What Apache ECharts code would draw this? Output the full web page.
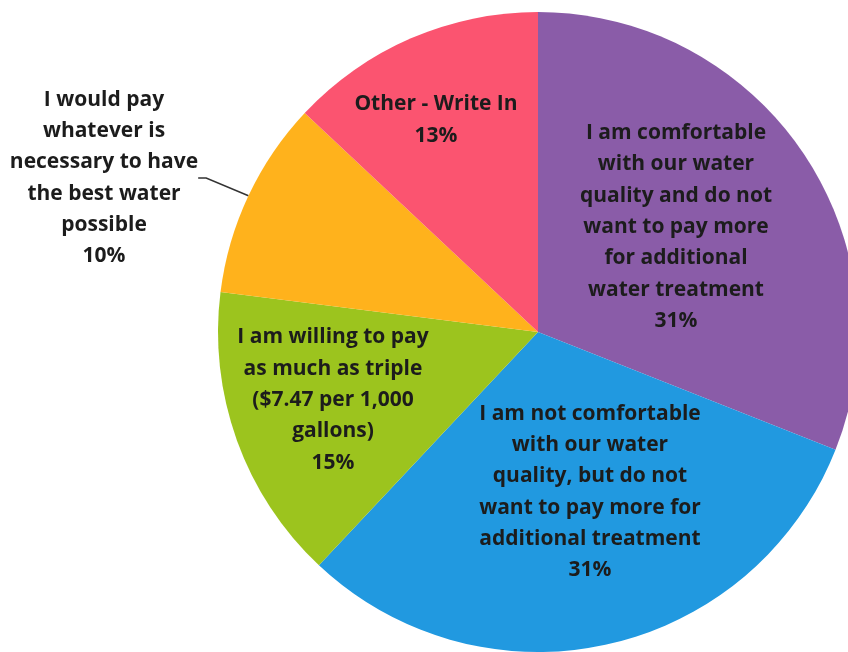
<!DOCTYPE html>
<html>
<head>
<meta charset="utf-8">
<script src="https://cdn.jsdelivr.net/npm/echarts@6/dist/echarts.min.js"></script>
<style>
  html, body { margin: 0; padding: 0; background: #ffffff; }
  #chart { width: 848px; height: 652px; }
</style>
</head>
<body>
<div id="chart"></div>
<script>
// Survey responses: willingness to pay for additional water treatment
const categories = [
  'I am comfortable\nwith our water\nquality and do not\nwant to pay more\nfor additional\nwater treatment',
  'I am not comfortable\nwith our water\nquality, but do not\nwant to pay more for\nadditional treatment',
  'I am willing to pay\nas much as triple\n($7.47 per 1,000\ngallons)',
  'I would pay\nwhatever is\nnecessary to have\nthe best water\npossible',
  'Other - Write In'
];
const percents = [31, 31, 15, 10, 13];
const sliceColors = ['#8a5ca8', '#2199e0', '#9cc41e', '#ffb21c', '#fb5470'];

// label anchor points (centre of each text block, in pixels)
const labelAnchors = [
  [676, 227],
  [590, 492],
  [333, 400],
  [104, 178],
  [436, 120]
];

const chart = echarts.init(document.getElementById('chart'));

const data = categories.map((name, i) => ({
  name: name,
  value: percents[i],
  itemStyle: { color: sliceColors[i] },
  label: i === 3
    ? { position: 'outside' }
    : { position: 'inside' },
  labelLine: { show: i === 3 }
}));

chart.setOption({
  animation: false,
  backgroundColor: '#ffffff',
  series: [{
    type: 'pie',
    center: [538, 332],
    radius: [0, 320],
    startAngle: 90,
    clockwise: true,
    silent: true,
    itemStyle: { borderWidth: 0 },
    label: {
      show: true,
      formatter: p => p.name + '\n' + p.value + '%',
      fontFamily: 'Open Sans',
      fontWeight: 'bold',
      fontSize: 21,
      lineHeight: 31.3,
      color: '#1c1c1c',
      align: 'center'
    },
    labelLine: {
      show: false,
      length: 10,
      length2: 8,
      lineStyle: { color: '#333333', width: 1.5 },
      smooth: false
    },
    labelLayout: function (params) {
      const a = labelAnchors[params.dataIndex];
      return {
        x: a[0],
        y: a[1],
        align: 'center',
        verticalAlign: 'middle'
      };
    },
    data: data
  }]
});
</script>
</body>
</html>
